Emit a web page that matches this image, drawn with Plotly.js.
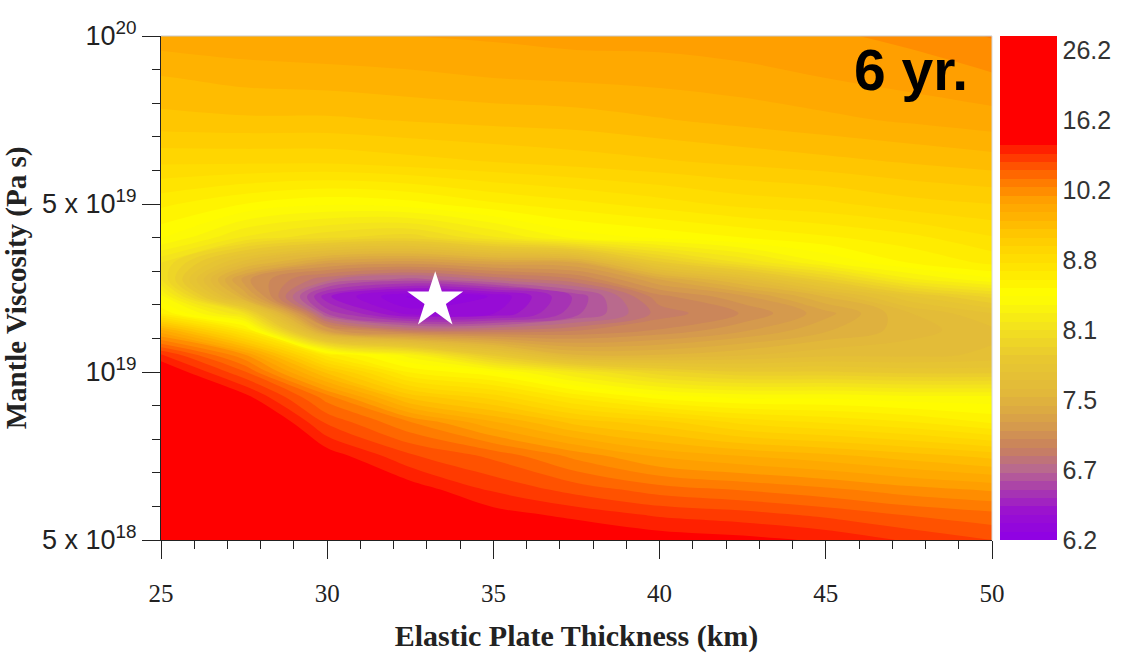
<!DOCTYPE html>
<html>
<head>
<meta charset="utf-8">
<script src="https://cdn.plot.ly/plotly-3.0.1.min.js"></script>
<style>html,body{margin:0;padding:0;background:#fff;}#chart{width:1128px;height:659px;}</style>
</head>
<body>
<div id="chart"></div>
<script>
// Elastic plate thickness (km) grid columns
const thickness = [25, 27.5, 30, 32.5, 35, 37.5, 40, 42.5, 45, 47.5, 50];
// Mantle viscosity grid rows, as position on the viscosity axis (0 = 5e18, 1 = 1e19, 2 = 5e19, 3 = 1e20)
const viscosityPos = [0, 0.15, 0.3, 0.5, 0.7, 0.85, 1.0, 1.1, 1.25, 1.35, 1.45, 1.55, 1.65, 1.8, 2.0, 2.25, 2.5, 2.75, 3.0];
// Misfit, expressed as position on the colour bar (0 = 6.2 ... 7 = 26.2)
const misfitLevel = [
  [6.9, 6.7, 6.3, 6.0, 5.85, 5.8, 5.72, 5.68, 5.62, 5.5, 5.4],
  [6.8, 6.6, 6.2, 5.9, 5.7, 5.6, 5.5, 5.45, 5.37, 5.27, 5.2],
  [6.7, 6.5, 6.0, 5.72, 5.5, 5.35, 5.22, 5.15, 5.07, 4.97, 4.9],
  [6.5, 6.3, 5.72, 5.42, 5.25, 5.0, 4.78, 4.68, 4.6, 4.5, 4.4],
  [6.3, 6.0, 5.38, 5.05, 4.7, 4.4, 4.25, 4.05, 3.95, 3.85, 3.7],
  [6.1, 5.7, 5.1, 4.4, 4.15, 3.8, 3.55, 3.45, 3.45, 3.4, 3.4],
  [5.8, 5.3, 4.4, 3.7, 3.5, 3.1, 2.8, 2.65, 2.65, 2.6, 2.6],
  [5.55, 4.95, 3.8, 3.3, 2.6, 2.05, 2.05, 2.15, 2.25, 2.25, 2.3],
  [4.7, 3.8, 1.6, 1.2, 1.2, 1.3, 1.45, 1.65, 1.9, 2.1, 2.25],
  [3.7, 3.0, 0.8, 0.3, 0.35, 0.8, 1.25, 1.45, 1.75, 2.15, 2.4],
  [3.4, 1.9, 0.5, 0.1, 0.25, 0.75, 1.4, 1.65, 2.05, 2.5, 2.8],
  [3.0, 1.6, 1.1, 0.9, 1.1, 1.3, 1.8, 2.2, 2.7, 3.2, 3.45],
  [3.0, 2.2, 1.7, 1.6, 1.75, 1.8, 2.6, 3.0, 3.35, 3.6, 3.75],
  [3.5, 3.1, 2.9, 2.8, 3.1, 3.4, 3.5, 3.6, 3.7, 3.8, 3.95],
  [3.75, 3.6, 3.5, 3.55, 3.7, 3.8, 3.9, 4.0, 4.05, 4.15, 4.2],
  [4.1, 4.1, 4.1, 4.15, 4.2, 4.25, 4.3, 4.35, 4.4, 4.45, 4.5],
  [4.4, 4.42, 4.42, 4.45, 4.48, 4.5, 4.55, 4.6, 4.65, 4.7, 4.75],
  [4.55, 4.6, 4.62, 4.65, 4.68, 4.7, 4.72, 4.75, 4.8, 4.85, 4.9],
  [4.75, 4.78, 4.8, 4.8, 4.82, 4.85, 4.85, 4.88, 4.9, 4.95, 5.05]
];
// Colour bar labels (misfit values)
const misfitLabels = ['6.2', '6.7', '7.5', '8.1', '8.8', '10.2', '16.2', '26.2'];
const misfitLabelPos = [0, 1, 2, 3, 4, 5, 6, 7];
// Viscosity axis tick labels
const viscTickPos = [0, 1, 2, 3];
const viscTickText = ['5 x 10<sup>18</sup>', '10<sup>19</sup>', '5 x 10<sup>19</sup>', '10<sup>20</sup>'];
// Best-fit model (star)
const bestThickness = [33.25];
const bestViscosityPos = [1.425];

const zMax = 7.2;
const stops = [
  [0.0, '#8e00e6'], [0.4, '#9a10d0'], [0.7, '#a838b0'], [1.0, '#b86890'],
  [1.3, '#c8805f'], [1.7, '#d8a048'], [2.1, '#e2b83a'], [2.6, '#e8c830'],
  [3.0, '#f2e020'], [3.5, '#ffff00'], [3.9, '#ffe400'], [4.3, '#ffcc00'],
  [4.6, '#ffb400'], [4.85, '#ffa000'], [5.1, '#ff7c00'], [5.35, '#ff5000'],
  [5.55, '#ff2800'], [5.7, '#ff0000'], [7.2, '#ff0000']
];
const colorscale = stops.map(s => [s[0] / zMax, s[1]]);

const contour = {
  type: 'contour',
  x: thickness,
  y: viscosityPos,
  z: misfitLevel,
  zmin: 0, zmax: zMax,
  autocontour: false,
  contours: {start: 0, end: zMax, size: 0.12, coloring: 'fill', showlines: false},
  line: {width: 0, smoothing: 1},
  colorscale: colorscale,
  hoverinfo: 'skip',
  colorbar: {
    x: 1.0096, xanchor: 'left', xref: 'paper',
    y: 0.5, yanchor: 'middle', len: 1, lenmode: 'fraction',
    thickness: 57, thicknessmode: 'pixels',
    xpad: 0, ypad: 0, outlinewidth: 0,
    tickmode: 'array', tickvals: misfitLabelPos, ticktext: misfitLabels,
    ticks: '', ticklabelpad: 8,
    tickfont: {family: 'Liberation Sans, Arial, sans-serif', size: 25, color: '#333'}
  }
};

const star = {
  type: 'scatter', mode: 'markers',
  x: bestThickness, y: bestViscosityPos,
  marker: {symbol: 'star', size: 42, color: '#ffffff', line: {width: 0}},
  hoverinfo: 'skip', showlegend: false
};

const serif = 'Liberation Serif, Times New Roman, serif';
const sans = 'Liberation Sans, Arial, sans-serif';

const layout = {
  width: 1128, height: 659,
  margin: {l: 161, r: 136, t: 36, b: 119},
  paper_bgcolor: '#ffffff', plot_bgcolor: '#ffffff',
  showlegend: false,
  xaxis: {
    range: [25, 50], tick0: 25, dtick: 5,
    showline: true, linecolor: '#222', linewidth: 1,
    ticks: 'outside', ticklen: 18, tickwidth: 1, tickcolor: '#222',
    minor: {ticks: 'outside', ticklen: 8, tickwidth: 1, tickcolor: '#222', dtick: 1, tick0: 25, showgrid: false},
    showgrid: false, zeroline: false,
    tickfont: {family: serif, size: 25, color: '#222'},
    ticklabelstandoff: 13,
    title: {text: 'Elastic Plate Thickness (km)', font: {family: serif, size: 30, color: '#222', weight: 'bold'}, standoff: 18}
  },
  yaxis: {
    range: [0, 3],
    tickmode: 'array', tickvals: viscTickPos, ticktext: viscTickText,
    showline: true, linecolor: '#222', linewidth: 1,
    ticks: 'outside', ticklen: 18, tickwidth: 1, tickcolor: '#222',
    minor: {tickmode: 'linear', ticks: 'outside', ticklen: 8, tickwidth: 1, tickcolor: '#222', dtick: 0.2, tick0: 0, showgrid: false},
    showgrid: false, zeroline: false,
    tickfont: {family: sans, size: 27, color: '#222'},
    title: {text: 'Mantle Viscosity (Pa s)', font: {family: serif, size: 29, color: '#222', weight: 'bold'}, standoff: 8}
  },
  shapes: [
    {type: 'line', xref: 'paper', yref: 'paper', x0: 0, x1: 1, y0: 1, y1: 1, line: {color: '#c8c8c8', width: 1}},
    {type: 'line', xref: 'paper', yref: 'paper', x0: 1, x1: 1, y0: 0, y1: 1, line: {color: '#d8d8d8', width: 1}}
  ],
  annotations: [
    {text: '<b>6 yr.</b>', xref: 'paper', yref: 'paper', x: 0.9735, y: 0.933,
     xanchor: 'right', yanchor: 'middle', showarrow: false,
     font: {family: sans, size: 57, color: '#000'}}
  ]
};

Plotly.newPlot('chart', [contour, star], layout, {displayModeBar: false, staticPlot: true});
</script>
</body>
</html>
